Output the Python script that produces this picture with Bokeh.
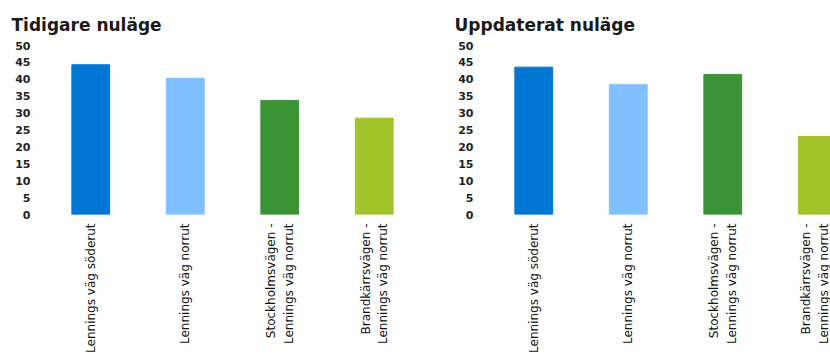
import math
from bokeh.plotting import figure
from bokeh.layouts import row
from bokeh.models import Range1d, FixedTicker, ColumnDataSource
from bokeh.embed import file_html
from bokeh.resources import INLINE

categories = [
    "Lennings väg söderut",
    "Lennings väg norrut",
    "Stockholmsvägen -\nLennings väg norrut",
    "Brandkärrsvägen -\nLennings väg norrut",
]
colors = ["#0077D2", "#80C0FF", "#3A9436", "#A0C42A"]
tidigare = [44.3, 40.3, 33.7, 28.5]
uppdaterat = [43.6, 38.4, 41.4, 23.1]
y_ticks = [0, 5, 10, 15, 20, 25, 30, 35, 40, 45, 50]

FONT = "DejaVu Sans"


def make(title, values, width, x_end, border_right):
    positions = list(range(len(categories)))
    src = ColumnDataSource(dict(x=positions, top=values, color=colors))
    p = figure(
        width=width, height=355, output_backend="svg", toolbar_location=None,
        x_range=Range1d(-0.5, x_end), y_range=Range1d(0, 50),
        min_border_left=43, min_border_right=border_right,
        min_border_top=45, min_border_bottom=141,
    )
    p.vbar(x="x", top="top", width=0.4, color="color", source=src)
    p.title.text = title
    p.title.text_font = FONT
    p.title.text_font_size = "17px"
    p.title.text_font_style = "bold"
    p.title.text_color = "#1a1a1a"
    p.title.align = "left"
    p.title.offset = -32
    p.title.standoff = 21
    p.outline_line_color = None
    p.xgrid.visible = False
    p.ygrid.visible = False

    p.yaxis.ticker = FixedTicker(ticks=y_ticks)
    p.yaxis.axis_line_color = None
    p.yaxis.major_tick_line_color = None
    p.yaxis.minor_tick_line_color = None
    p.yaxis.major_tick_out = 0
    p.yaxis.major_tick_in = 0
    p.yaxis.major_label_standoff = 13
    p.yaxis.major_label_text_font = FONT
    p.yaxis.major_label_text_font_size = "11px"
    p.yaxis.major_label_text_font_style = "bold"
    p.yaxis.major_label_text_color = "#222222"

    p.xaxis.ticker = FixedTicker(ticks=positions)
    p.xaxis.major_label_overrides = {i: c for i, c in zip(positions, categories)}
    p.xaxis.axis_line_color = None
    p.xaxis.major_tick_line_color = None
    p.xaxis.minor_tick_line_color = None
    p.xaxis.major_tick_out = 0
    p.xaxis.major_tick_in = 0
    p.xaxis.major_label_standoff = 9
    p.xaxis.major_label_orientation = math.pi / 2
    p.xaxis.major_label_text_font = FONT
    p.xaxis.major_label_text_font_size = "12px"
    p.xaxis.major_label_text_line_height = 1.25
    p.xaxis.major_label_text_color = "#111111"
    return p


p1 = make("Tidigare nuläge", tidigare, 443, 3.5, 22)
p2 = make("Uppdaterat nuläge", uppdaterat, 387, 3.14, 0)

layout = row(p1, p2)
open("out.html", "w").write(file_html(layout, INLINE))
